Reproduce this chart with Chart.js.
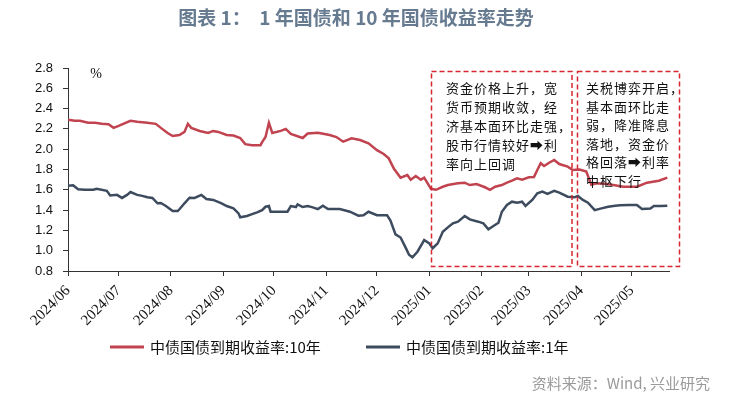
<!DOCTYPE html>
<html>
<head>
<meta charset="utf-8">
<script src="https://cdn.jsdelivr.net/npm/chart.js@4.4.1/dist/chart.umd.min.js"></script>
<style>
  html, body { margin: 0; padding: 0; background: #fff; }
  #wrap { width: 743px; height: 397px; }
</style>
</head>
<body>
<div id="wrap"><canvas id="yieldChart" width="743" height="397"></canvas></div>
<script>
// 10Y yield (中债国债到期收益率:10年)
const dates10y = [
  "2024-06-01","2024-06-05","2024-06-08","2024-06-13","2024-06-17","2024-06-21","2024-06-25","2024-06-28",
  "2024-07-01","2024-07-03","2024-07-08","2024-07-12","2024-07-18","2024-07-23","2024-07-26","2024-07-30",
  "2024-08-02","2024-08-06","2024-08-09","2024-08-11","2024-08-13","2024-08-18","2024-08-23","2024-08-26","2024-08-29",
  "2024-09-03","2024-09-07","2024-09-11","2024-09-14","2024-09-18","2024-09-23","2024-09-24","2024-09-26","2024-09-28","2024-09-30",
  "2024-10-05","2024-10-08","2024-10-11","2024-10-18","2024-10-21","2024-10-27",
  "2024-11-03","2024-11-07","2024-11-11","2024-11-16","2024-11-21","2024-11-26",
  "2024-12-01","2024-12-05","2024-12-08","2024-12-11","2024-12-15","2024-12-19","2024-12-21","2024-12-24","2024-12-27","2024-12-29",
  "2025-01-02","2025-01-05","2025-01-09","2025-01-12","2025-01-18","2025-01-22","2025-01-25","2025-01-29",
  "2025-02-03","2025-02-06","2025-02-09","2025-02-13","2025-02-16","2025-02-19","2025-02-22","2025-02-25",
  "2025-03-01","2025-03-04","2025-03-06","2025-03-08","2025-03-10","2025-03-13","2025-03-16","2025-03-19","2025-03-24","2025-03-27","2025-03-31",
  "2025-04-04","2025-04-07","2025-04-10","2025-04-15","2025-04-20","2025-04-26",
  "2025-05-04","2025-05-10","2025-05-17","2025-05-22"
];
const values10y = [
  2.29,2.28,2.28,2.26,2.26,2.25,2.245,2.21,
  2.23,2.245,2.28,2.27,2.26,2.25,2.21,2.16,
  2.13,2.14,2.17,2.25,2.21,2.18,2.16,2.18,2.17,
  2.14,2.135,2.11,2.05,2.04,2.04,2.07,2.12,2.26,2.16,
  2.18,2.20,2.15,2.11,2.155,2.163,
  2.14,2.12,2.074,2.107,2.09,2.058,
  1.99,1.953,1.91,1.81,1.72,1.746,1.70,1.736,1.70,1.72,
  1.61,1.60,1.63,1.647,1.664,1.67,1.647,1.657,
  1.625,1.60,1.63,1.647,1.67,1.69,1.713,1.70,
  1.723,1.725,1.795,1.861,1.834,1.867,1.894,1.854,1.828,1.795,1.80,
  1.78,1.65,1.664,1.66,1.647,1.63,
  1.63,1.67,1.69,1.72
];

// 1Y yield (中债国债到期收益率:1年)
const dates1y = [
  "2024-06-01","2024-06-04","2024-06-07","2024-06-11","2024-06-16","2024-06-18","2024-06-24","2024-06-26","2024-06-30",
  "2024-07-03","2024-07-06","2024-07-08","2024-07-12","2024-07-15","2024-07-18","2024-07-21","2024-07-24","2024-07-26","2024-07-29",
  "2024-08-02","2024-08-05","2024-08-06","2024-08-09","2024-08-12","2024-08-15","2024-08-19","2024-08-22","2024-08-26","2024-08-31",
  "2024-09-03","2024-09-07","2024-09-10","2024-09-11","2024-09-15","2024-09-18","2024-09-21","2024-09-24","2024-09-26","2024-09-28","2024-09-29",
  "2024-10-05","2024-10-09","2024-10-11","2024-10-14","2024-10-15","2024-10-18","2024-10-21","2024-10-24","2024-10-27","2024-10-30",
  "2024-11-02","2024-11-09","2024-11-15","2024-11-20","2024-11-23","2024-11-26",
  "2024-12-01","2024-12-07","2024-12-09","2024-12-12","2024-12-15","2024-12-18","2024-12-20","2024-12-22","2024-12-25","2024-12-29",
  "2025-01-01","2025-01-03","2025-01-06","2025-01-09","2025-01-12","2025-01-15","2025-01-18","2025-01-22","2025-01-25","2025-01-30",
  "2025-02-02","2025-02-05","2025-02-08","2025-02-11","2025-02-13","2025-02-16","2025-02-19","2025-02-22","2025-02-25","2025-02-27",
  "2025-03-03","2025-03-06","2025-03-09","2025-03-12","2025-03-16","2025-03-19","2025-03-24","2025-03-28","2025-03-30",
  "2025-04-02","2025-04-05","2025-04-09","2025-04-13","2025-04-17","2025-04-20","2025-04-24","2025-04-29",
  "2025-05-04","2025-05-07","2025-05-12","2025-05-14","2025-05-18","2025-05-22"
];
const values1y = [
  1.64,1.645,1.605,1.60,1.60,1.61,1.59,1.545,1.55,
  1.52,1.55,1.578,1.55,1.54,1.526,1.52,1.467,1.47,1.44,
  1.39,1.39,1.408,1.467,1.522,1.52,1.549,1.509,1.50,1.467,
  1.44,1.418,1.368,1.329,1.342,1.36,1.378,1.40,1.433,1.44,1.384,
  1.384,1.384,1.44,1.43,1.457,1.43,1.44,1.427,1.41,1.443,
  1.41,1.41,1.384,1.345,1.35,1.384,
  1.35,1.35,1.296,1.161,1.13,1.03,0.96,0.935,0.99,1.105,
  1.072,1.024,1.072,1.187,1.23,1.27,1.286,1.342,1.309,1.286,
  1.27,1.211,1.243,1.276,1.384,1.45,1.483,1.473,1.483,1.44,
  1.50,1.565,1.582,1.559,1.59,1.572,1.532,1.526,1.539,
  1.50,1.473,1.40,1.417,1.433,1.44,1.447,1.45,
  1.45,1.41,1.415,1.44,1.44,1.443
];

// x axis month ticks
const tickDates = ["2024-06-01","2024-07-01","2024-08-01","2024-09-01","2024-10-01","2024-11-01",
  "2024-12-01","2025-01-01","2025-02-01","2025-03-01","2025-04-01","2025-05-01"];
const tickLabels = ["2024/06","2024/07","2024/08","2024/09","2024/10","2024/11",
  "2024/12","2025/01","2025/02","2025/03","2025/04","2025/05"];
const lastDate = "2025-05-23";

const seriesNames = ["中债国债到期收益率:10年", "中债国债到期收益率:1年"];

const titleText = "图表 1：  1 年国债和 10 年国债收益率走势";
const sourceText = "资料来源：Wind, 兴业研究";
const note1 = ["资金价格上升，宽", "货币预期收敛，经", "济基本面环比走强，", "股市行情较好➡利", "率向上回调"];
const note2 = ["关税博弈开启，", "基本面环比走", "弱，降准降息", "落地，资金价", "格回落➡利率", "中枢下行"];

// day offset from 2024-06-01
const baseTime = Date.parse("2024-06-01T00:00:00Z");
function dayOf(s) {
  return (Date.parse(s + "T00:00:00Z") - baseTime) / 86400000;
}
function toPoints(dates, values) {
  return dates.map((d, i) => ({ x: dayOf(d), y: values[i] }));
}

const RED = "#c0434f";
const NAVY = "#3d4b5e";
const CJK = '"Noto Sans CJK SC", "Noto Sans", sans-serif';

// extra texts, dashed boxes and legend
const decorations = {
  id: "decorations",
  afterDraw(chart) {
    const ctx = chart.ctx;
    ctx.save();

    // title
    ctx.fillStyle = "#667a90";
    ctx.font = "bold 19px " + CJK;
    ctx.textAlign = "center";
    ctx.textBaseline = "middle";
    ctx.fillText(titleText, 356, 18);

    // unit
    ctx.fillStyle = "#111";
    ctx.font = '14px "Liberation Serif", serif';
    ctx.fillText("%", 96, 74);

    // dashed boxes
    ctx.strokeStyle = "#d8262e";
    ctx.lineWidth = 1.5;
    ctx.setLineDash([5, 3]);
    ctx.strokeRect(431.5, 71.5, 140.5, 195);
    ctx.strokeRect(577.5, 71.5, 102, 195);
    ctx.setLineDash([]);

    // notes
    ctx.fillStyle = "#111";
    ctx.font = "13px " + CJK;
    ctx.textAlign = "left";
    ctx.letterSpacing = "1px";
    note1.forEach((t, i) => ctx.fillText(t, 446, 88 + i * 19));
    note2.forEach((t, i) => ctx.fillText(t, 586, 88 + i * 18.6));
    ctx.letterSpacing = "0px";

    // legend
    const legendY = 347;
    const items = [
      { x: 110, color: chart.data.datasets[0].borderColor, label: chart.data.datasets[0].label },
      { x: 366, color: chart.data.datasets[1].borderColor, label: chart.data.datasets[1].label },
    ];
    ctx.font = "15px " + CJK;
    ctx.fillStyle = "#111";
    items.forEach((it) => {
      ctx.strokeStyle = it.color;
      ctx.lineWidth = 3;
      ctx.beginPath();
      ctx.moveTo(it.x, legendY);
      ctx.lineTo(it.x + 34, legendY);
      ctx.stroke();
      ctx.fillText(it.label, it.x + 40, legendY);
    });

    // source
    ctx.fillStyle = "#9a9a9a";
    ctx.font = "15px " + CJK;
    ctx.textAlign = "right";
    ctx.fillText(sourceText, 710, 383);

    ctx.restore();
  },
};

new Chart(document.getElementById("yieldChart").getContext("2d"), {
  type: "line",
  data: {
    datasets: [
      {
        label: seriesNames[0],
        data: toPoints(dates10y, values10y),
        borderColor: RED,
        borderWidth: 2.5,
        pointRadius: 0,
        tension: 0,
        fill: false,
      },
      {
        label: seriesNames[1],
        data: toPoints(dates1y, values1y),
        borderColor: NAVY,
        borderWidth: 2.5,
        pointRadius: 0,
        tension: 0,
        fill: false,
      },
    ],
  },
  options: {
    responsive: false,
    animation: false,
    devicePixelRatio: 1,
    layout: { padding: { top: 68, right: 74, left: 0, bottom: 0 } },
    plugins: {
      legend: { display: false },
      title: { display: false },
      tooltip: { enabled: false },
    },
    scales: {
      x: {
        type: "linear",
        min: 0,
        max: dayOf(lastDate),
        afterFit: (scale) => { scale.height = 126; },
        afterBuildTicks: (scale) => {
          scale.ticks = tickDates.map((d) => ({ value: dayOf(d) }));
        },
        grid: { drawOnChartArea: false, drawTicks: true, tickLength: 5, color: "#333" },
        border: { display: true, color: "#333", width: 1 },
        ticks: {
          autoSkip: false,
          minRotation: 45,
          maxRotation: 45,
          padding: 6,
          color: "#111",
          font: { family: '"Liberation Serif", serif', size: 15 },
          callback: (value) => {
            const i = tickDates.findIndex((d) => dayOf(d) === value);
            return i >= 0 ? tickLabels[i] : "";
          },
        },
      },
      y: {
        min: 0.8,
        max: 2.8,
        afterFit: (scale) => { scale.width = 68; },
        grid: { drawOnChartArea: false, drawTicks: true, tickLength: 5, color: "#333" },
        border: { display: true, color: "#333", width: 1 },
        ticks: {
          stepSize: 0.2,
          padding: 10,
          color: "#111",
          font: { family: '"Liberation Sans", Arial, sans-serif', size: 13 },
          callback: (v) => Number(v).toFixed(1),
        },
      },
    },
  },
  plugins: [decorations],
});
</script>
</body>
</html>
